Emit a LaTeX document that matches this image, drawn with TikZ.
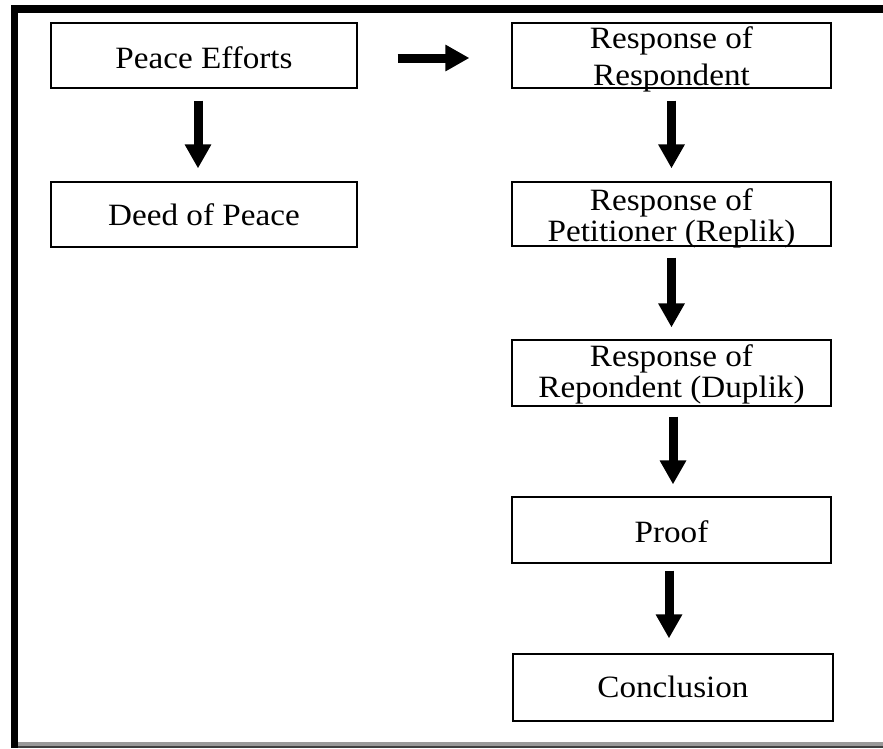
\documentclass[tikz,border=0pt]{standalone}
\usepackage{fontspec}
\setmainfont{Liberation Serif}[FakeStretch=1.07]
\usetikzlibrary{arrows.meta}
\begin{document}
\begin{tikzpicture}[x=1pt,y=-1pt,
  box/.style={draw=black, line width=1.2pt, inner sep=0pt},
  lbl/.style={anchor=base, inner sep=0pt, font=\fontsize{31}{31}\selectfont},
  bigarrow/.style={line width=9pt, -{Triangle[width=25pt,length=24pt]}}]
\useasboundingbox (0,0) rectangle (883,748);
\fill[white] (0,0) rectangle (883,748);
% frame
\fill[black] (11,5) rectangle (883,13);
\fill[black] (11,5) rectangle (18,748);
\fill[black!40] (18,742) rectangle (883,746);
\fill[black!75] (18,746) rectangle (883,748);
% boxes
\node[box, minimum width=306pt, minimum height=65pt] (pe) at (204,55.5) {};
\node[box, minimum width=306pt, minimum height=65pt] (dp) at (204,214.5) {};
\node[box, minimum width=319pt, minimum height=65pt] (rr) at (671.5,55.5) {};
\node[box, minimum width=319pt, minimum height=64pt] (rp) at (671.5,214) {};
\node[box, minimum width=319pt, minimum height=66pt] (rd) at (671.5,373) {};
\node[box, minimum width=319pt, minimum height=66pt] (pf) at (671.5,530) {};
\node[box, minimum width=320pt, minimum height=67pt] (cc) at (673,687.5) {};
% texts
\node[lbl] (tpe) at (204,68) {Peace Efforts};
\node[lbl] (tdp) at (204,225) {Deed of Peace};
\node[lbl] (trr1) at (671.5,48) {Response of};
\node[lbl] (trr2) at (671.5,85.5) {Respondent};
\node[lbl] (trp1) at (671.5,210.5) {Response of};
\node[lbl] (trp2) at (671.5,241.5) {Petitioner (Replik)};
\node[lbl] (trd1) at (671.5,366) {Response of};
\node[lbl] (trd2) at (671.5,397.5) {Repondent (Duplik)};
\node[lbl] (tpf) at (671.5,542) {Proof};
\node[lbl] (tcc) at (673,697) {Conclusion};
% arrows
\draw[bigarrow] ([xshift=-6pt,yshift=-12pt]pe.south) -- ([xshift=-6pt,yshift=13pt]dp.north);
\draw[bigarrow] ([xshift=40pt,yshift=-2.5pt]pe.east) -- ([xshift=-42pt,yshift=-2.5pt]rr.west);
\draw[bigarrow] ([yshift=-12pt]rr.south) -- ([yshift=13pt]rp.north);
\draw[bigarrow] ([yshift=-11pt]rp.south) -- ([yshift=12pt]rd.north);
\draw[bigarrow] ([xshift=1.5pt,yshift=-10pt]rd.south) -- ([xshift=1.5pt,yshift=12pt]pf.north);
\draw[bigarrow] ([xshift=-2.5pt,yshift=-7pt]pf.south) -- ([xshift=-4pt,yshift=15pt]cc.north);
\end{tikzpicture}
\end{document}
